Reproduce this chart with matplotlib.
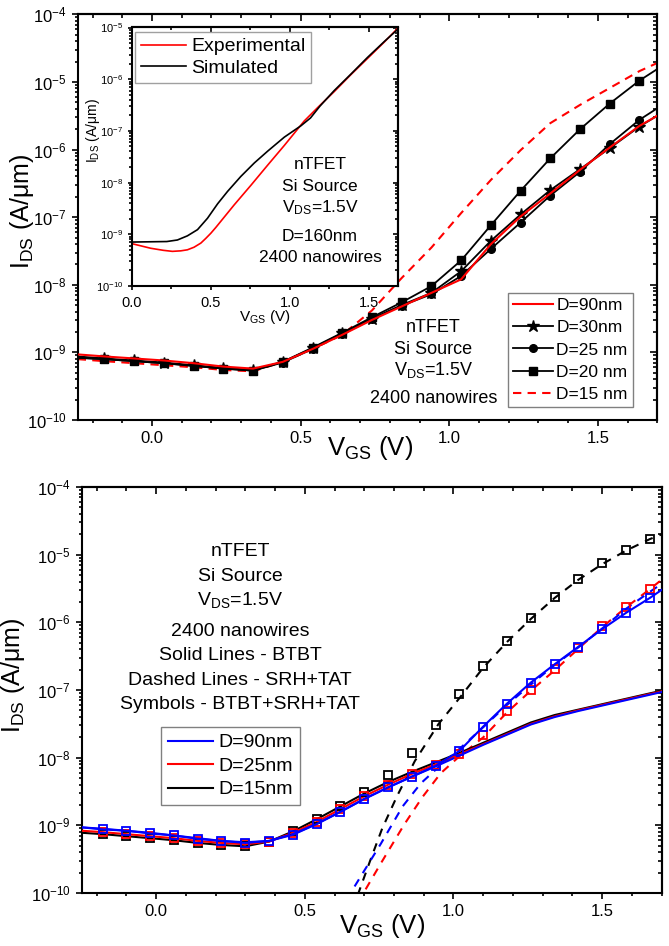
import matplotlib
matplotlib.use("Agg")
import matplotlib.pyplot as plt
import numpy as np
from matplotlib.ticker import LogLocator, MultipleLocator, NullFormatter, FormatStrFormatter

plt.rcParams['font.family'] = ['Liberation Sans', 'DejaVu Sans']
plt.rcParams['mathtext.default'] = 'regular'

# ---------------- data (log10 of I_DS in A/um) ----------------
# top panel: diameter dependence
v_top = [-0.25, -0.16, -0.06, 0.04, 0.14, 0.24, 0.34, 0.44, 0.54, 0.64, 0.74,
         0.84, 0.94, 1.04, 1.14, 1.24, 1.34, 1.44, 1.54, 1.64, 1.70]
d90_top = [-9.03, -9.06, -9.09, -9.12, -9.16, -9.21, -9.24, -9.14, -8.95, -8.74, -8.52,
           -8.32, -8.12, -7.92, -7.40, -6.99, -6.65, -6.30, -5.97, -5.65, -5.50]
d30_top = [-9.06, -9.09, -9.12, -9.15, -9.19, -9.23, -9.26, -9.14, -8.94, -8.72, -8.50,
           -8.30, -8.12, -7.80, -7.35, -6.96, -6.60, -6.29, -5.98, -5.66, -5.50]
d25_top = [-9.08, -9.10, -9.13, -9.16, -9.20, -9.24, -9.27, -9.15, -8.95, -8.73, -8.51,
           -8.31, -8.14, -7.87, -7.47, -7.08, -6.68, -6.33, -5.92, -5.56, -5.39]
d20_top = [-9.08, -9.10, -9.13, -9.16, -9.20, -9.24, -9.27, -9.14, -8.93, -8.71, -8.48,
           -8.26, -8.02, -7.64, -7.12, -6.61, -6.13, -5.70, -5.32, -4.98, -4.81]
d15_top = [-9.10, -9.13, -9.16, -9.19, -9.22, -9.26, -9.28, -9.14, -8.95, -8.74, -8.38,
           -7.90, -7.45, -6.94, -6.45, -6.01, -5.61, -5.34, -5.09, -4.84, -4.72]

# inset: D=160nm calibration
v_exp = [0.0, 0.12, 0.20, 0.257, 0.31, 0.352, 0.394, 0.437, 0.468, 0.50, 0.531, 0.648, 0.754,
         0.86, 0.965, 1.09, 1.175, 1.28, 1.386, 1.49, 1.597, 1.68]
exp_ids = [-9.18, -9.27, -9.31, -9.33, -9.32, -9.30, -9.25, -9.17, -9.08, -8.98, -8.87, -8.43, -8.05,
           -7.66, -7.28, -6.81, -6.55, -6.24, -5.91, -5.60, -5.28, -5.02]
v_sim = [0.0, 0.222, 0.289, 0.352, 0.416, 0.479, 0.543, 0.606, 0.69, 0.775, 0.86, 0.965,
         1.07, 1.13, 1.19, 1.28, 1.386, 1.49, 1.597, 1.68]
sim_ids = [-9.15, -9.14, -9.11, -9.03, -8.91, -8.69, -8.41, -8.17, -7.88, -7.62, -7.39, -7.12,
           -6.90, -6.75, -6.52, -6.22, -5.90, -5.58, -5.27, -5.04]

# bottom panel: BTBT (solid), SRH+TAT (dashed), total (symbols)
v_bot = [-0.25, -0.18, -0.10, -0.02, 0.06, 0.14, 0.22, 0.30, 0.38, 0.46, 0.54, 0.62, 0.70,
         0.78, 0.86, 0.94, 1.02, 1.10, 1.18, 1.26, 1.34, 1.42, 1.50, 1.58, 1.66, 1.70]
btbt_90 = [-9.03, -9.05, -9.08, -9.11, -9.15, -9.19, -9.23, -9.25, -9.23, -9.13, -8.98, -8.80, -8.61,
           -8.44, -8.28, -8.13, -7.97, -7.81, -7.66, -7.51, -7.40, -7.31, -7.23, -7.15, -7.07, -7.03]
btbt_25 = [-9.08, -9.10, -9.13, -9.16, -9.19, -9.23, -9.26, -9.28, -9.24, -9.11, -8.95, -8.76, -8.57,
           -8.40, -8.24, -8.10, -7.95, -7.80, -7.65, -7.50, -7.39, -7.30, -7.22, -7.14, -7.06, -7.02]
btbt_15 = [-9.11, -9.13, -9.16, -9.19, -9.22, -9.26, -9.29, -9.31, -9.24, -9.09, -8.91, -8.72, -8.53,
           -8.36, -8.21, -8.07, -7.93, -7.78, -7.63, -7.48, -7.37, -7.29, -7.21, -7.13, -7.05, -7.01]
tot_90 = [-9.03, -9.06, -9.08, -9.12, -9.15, -9.20, -9.23, -9.26, -9.23, -9.14, -8.98, -8.80, -8.61,
          -8.44, -8.28, -8.12, -7.90, -7.54, -7.20, -6.89, -6.62, -6.36, -6.10, -5.86, -5.64, -5.52]
v_sym = v_bot[1:-1]
tot_25 = [-9.10, -9.13, -9.16, -9.19, -9.23, -9.26, -9.28, -9.24, -9.11, -8.95, -8.76, -8.57,
          -8.40, -8.24, -8.11, -7.95, -7.66, -7.31, -7.00, -6.69, -6.38, -6.06, -5.78, -5.51]
tot_15 = [-9.13, -9.16, -9.19, -9.22, -9.26, -9.29, -9.30, -9.24, -9.09, -8.91, -8.72, -8.51,
          -8.25, -7.93, -7.51, -7.06, -6.65, -6.27, -5.93, -5.63, -5.36, -5.13, -4.93, -4.77]
v_srh90 = [0.64, 0.70, 0.756, 0.829, 0.89, 0.952, 1.02, 1.10, 1.18, 1.26, 1.34, 1.42, 1.50, 1.58, 1.66, 1.70]
srh_90 = [-10.10, -9.67, -9.27, -8.72, -8.38, -8.13, -7.87, -7.55, -7.22, -6.92, -6.63, -6.37, -6.09, -5.80, -5.55, -5.43]
v_srh25 = [0.68, 0.70, 0.756, 0.834, 0.896, 0.957, 1.02, 1.10, 1.18, 1.26, 1.34, 1.42, 1.50, 1.58, 1.66, 1.70]
srh_25 = [-10.15, -9.98, -9.56, -8.99, -8.58, -8.23, -7.98, -7.70, -7.33, -7.01, -6.71, -6.39, -6.07, -5.78, -5.51, -5.37]
v_srh15 = [0.66, 0.72, 0.76, 0.81, 0.87, 0.95, 1.02, 1.10, 1.18, 1.26, 1.34, 1.42, 1.50, 1.58, 1.66, 1.70]
srh_15 = [-10.25, -9.52, -9.05, -8.57, -8.05, -7.50, -7.12, -6.67, -6.29, -5.95, -5.64, -5.37, -5.14, -4.94, -4.77, -4.70]


def cur(a):
    return 10.0 ** np.array(a)


def frame(ax, xlim, ylim, lsize, xmaj=0.5, xmin=0.1, lo=(4, 2.5), li=(5, 3), pad=4):
    ax.set_yscale('log')
    ax.set_xlim(*xlim)
    ax.set_ylim(*ylim)
    ax.xaxis.set_major_locator(MultipleLocator(xmaj))
    ax.xaxis.set_minor_locator(MultipleLocator(xmin))
    ax.xaxis.set_major_formatter(FormatStrFormatter('%.1f'))
    ax.yaxis.set_major_locator(LogLocator(base=10, numticks=20))
    ax.yaxis.set_minor_locator(LogLocator(base=10, subs=np.arange(2, 10), numticks=20))
    ax.yaxis.set_minor_formatter(NullFormatter())
    ax.tick_params(which='both', direction='out', width=1.2, labelsize=lsize, pad=pad)
    ax.tick_params(which='major', length=lo[0])
    ax.tick_params(which='minor', length=lo[1])
    for s in ax.spines.values():
        s.set_linewidth(1.5)
    top = ax.secondary_xaxis('top')
    top.xaxis.set_major_locator(MultipleLocator(xmaj))
    top.xaxis.set_minor_locator(MultipleLocator(xmin))
    right = ax.secondary_yaxis('right')
    right.yaxis.set_major_locator(LogLocator(base=10, numticks=20))
    right.yaxis.set_minor_locator(LogLocator(base=10, subs=np.arange(2, 10), numticks=20))
    for sec in (top, right):
        sec.tick_params(which='both', direction='in', width=1.2, labelleft=False,
                        labelright=False, labeltop=False, labelbottom=False)
        sec.tick_params(which='major', length=li[0])
        sec.tick_params(which='minor', length=li[1])
        for s in sec.spines.values():
            s.set_linewidth(1.5)


fig = plt.figure(figsize=(6.69, 9.46), dpi=100)
W, H = 669.0, 946.0


def box(l, t, r, b):
    return [l / W, 1 - b / H, (r - l) / W, (b - t) / H]


def put(x, y, s, size):
    fig.text(x / W, 1 - y / H, s, ha='center', va='baseline', fontsize=size)


# ---------------- top panel ----------------
ax1 = fig.add_axes(box(77.7, 14.3, 657.3, 420))
mk = slice(1, 20)
ax1.plot(v_top, cur(d15_top), color='red', lw=1.5, dashes=(4, 3), label='D=15 nm', zorder=2)
ax1.plot(v_top, cur(d20_top), color='black', lw=1.3, marker='s', ms=5.5, markevery=mk, label='D=20 nm', zorder=3)
ax1.plot(v_top, cur(d25_top), color='black', lw=1.3, marker='o', ms=5.5, markevery=mk, label='D=25 nm', zorder=3)
ax1.plot(v_top, cur(d30_top), color='black', lw=1.3, marker='*', ms=9, markevery=mk, label='D=30nm', zorder=3)
ax1.plot(v_top, cur(d90_top), color='red', lw=1.5, label='D=90nm', zorder=4)
frame(ax1, (-0.25, 1.70), (1e-10, 1e-4), 12)
ax1.set_xlabel('V$_{GS}$ (V)', fontsize=18.5)
ax1.xaxis.set_label_coords(0.504, -0.035)
ax1.set_ylabel('I$_{DS}$ (A/μm)', fontsize=18)
ax1.yaxis.set_label_coords(-0.072, 0.515)
h, l = ax1.get_legend_handles_labels()
order = [4, 3, 2, 1, 0]
leg1 = ax1.legend([h[i] for i in order], [l[i] for i in order], loc='upper left',
                  bbox_to_anchor=(507.7 / W, 1 - 293 / H), bbox_transform=fig.transFigure,
                  fontsize=12.5, frameon=True, fancybox=False, edgecolor='#808080', framealpha=1,
                  handlelength=2.3, handletextpad=0.2, labelspacing=0.4, borderpad=0.3,
                  borderaxespad=0, numpoints=1)
leg1.get_frame().set_linewidth(1.0)
put(433.5, 331.7, 'nTFET', 13)
put(433.5, 354, 'Si Source', 13)
put(433.5, 375, 'V$_{DS}$=1.5V', 13)
put(433.5, 403.3, '2400 nanowires', 13)

# ---------------- inset ----------------
axi = fig.add_axes(box(131.7, 27.5, 397.5, 286))
axi.set_facecolor('white')
axi.plot(v_exp, cur(exp_ids), color='red', lw=1.2, label='Experimental')
axi.plot(v_sim, cur(sim_ids), color='black', lw=1.2, label='Simulated')
frame(axi, (0.0, 1.68), (1e-10, 1e-5), 8, xmin=0.25, lo=(3, 2), li=(3.5, 2), pad=3)
axi.tick_params(axis='x', labelsize=10.5, pad=4)
axi.set_xlabel('V$_{GS}$ (V)', fontsize=11)
axi.xaxis.set_label_coords(0.5, -0.085)
axi.set_ylabel('I$_{DS}$ (A/μm)', fontsize=10)
axi.yaxis.set_label_coords(-0.112, 0.6)
legi = axi.legend(loc='upper left', bbox_to_anchor=(135 / W, 1 - 32 / H), bbox_transform=fig.transFigure,
                  fontsize=14, frameon=True, fancybox=False, edgecolor='#a0a0a0', framealpha=1,
                  handlelength=2.3, handletextpad=0.3, labelspacing=0.2, borderpad=0.3,
                  borderaxespad=0)
legi.get_frame().set_linewidth(1.0)
put(320, 169, 'nTFET', 12.5)
put(320, 190.7, 'Si Source', 12.5)
put(320, 212.3, 'V$_{DS}$=1.5V', 12.5)
put(320, 240.7, 'D=160nm', 12.5)
put(320, 262.3, '2400 nanowires', 12.5)

# ---------------- bottom panel ----------------
ax2 = fig.add_axes(box(81.7, 487, 661.7, 893))
dsh = (4, 3.5)
ax2.plot(v_srh15, cur(srh_15), color='black', lw=1.5, dashes=dsh, zorder=2)
ax2.plot(v_srh25, cur(srh_25), color='red', lw=1.5, dashes=dsh, zorder=2)
ax2.plot(v_srh90, cur(srh_90), color='blue', lw=1.5, dashes=dsh, zorder=2)
ax2.plot(v_bot, cur(btbt_15), color='black', lw=1.5, label='D=15nm', zorder=3)
ax2.plot(v_bot, cur(btbt_25), color='red', lw=1.5, label='D=25nm', zorder=3)
ax2.plot(v_bot, cur(btbt_90), color='blue', lw=1.5, label='D=90nm', zorder=3)
ax2.plot(v_sym, cur(tot_15), ls='none', marker='s', ms=6, mfc='none', mec='black', mew=1.3, zorder=4)
ax2.plot(v_sym, cur(tot_25), ls='none', marker='s', ms=6, mfc='none', mec='red', mew=1.3, zorder=4)
ax2.plot(v_bot, cur(tot_90), color='blue', lw=1.5, marker='s', ms=6, mfc='none', mec='blue', mew=1.3,
         markevery=slice(1, 25), zorder=5)
frame(ax2, (-0.25, 1.70), (1e-10, 1e-4), 12)
ax2.set_xlabel('V$_{GS}$ (V)', fontsize=18.5)
ax2.xaxis.set_label_coords(0.518, -0.048)
ax2.set_ylabel('I$_{DS}$ (A/μm)', fontsize=18)
ax2.yaxis.set_label_coords(-0.094, 0.537)
h, l = ax2.get_legend_handles_labels()
leg2 = ax2.legend(h[::-1], l[::-1], loc='upper left',
                  bbox_to_anchor=(161 / W, 1 - 727 / H), bbox_transform=fig.transFigure,
                  fontsize=14, frameon=True, fancybox=False, edgecolor='#808080', framealpha=1,
                  handlelength=2.3, handletextpad=0.3, labelspacing=0.3, borderpad=0.35,
                  borderaxespad=0)
leg2.get_frame().set_linewidth(1.0)
put(240, 556, 'nTFET', 14)
put(240, 580.7, 'Si Source', 14)
put(240, 605, 'V$_{DS}$=1.5V', 14)
put(240, 636, '2400 nanowires', 14)
put(240, 660, 'Solid Lines - BTBT', 14)
put(240, 685, 'Dashed Lines - SRH+TAT', 14)
put(240, 709.3, 'Symbols - BTBT+SRH+TAT', 14)

fig.savefig('out.png', dpi=100)
